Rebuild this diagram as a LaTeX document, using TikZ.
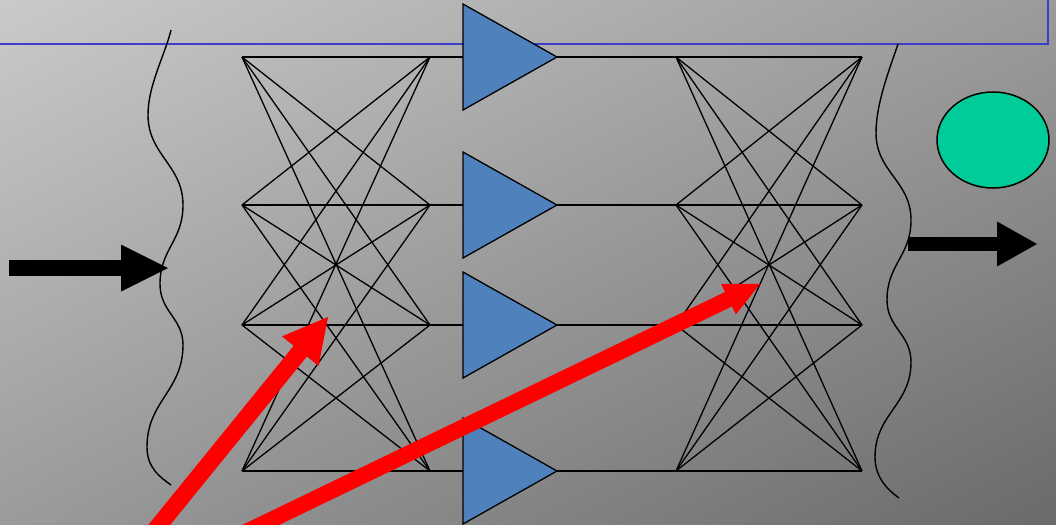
\documentclass[tikz,border=0pt]{standalone}
\usetikzlibrary{arrows.meta,shapes.geometric,shadings}
\definecolor{bglight}{RGB}{202,202,202}
\definecolor{bgmid}{RGB}{155,155,155}
\definecolor{bgdark}{RGB}{106,106,106}
\definecolor{frameblue}{RGB}{60,60,205}
\definecolor{triblue}{RGB}{79,129,189}
\definecolor{ballgreen}{RGB}{0,204,153}
\begin{document}
\begin{tikzpicture}[x=1pt,y=-1pt,
  mesh/.style={black,line width=1.3pt},
  wave/.style={black,line width=1.4pt},
  tri/.style={draw=black,fill=triblue,line width=1.3pt,line join=miter},
  frame/.style={draw=frameblue,line width=2.5pt},
  ball/.style={ellipse,draw=black,fill=ballgreen,line width=1.5pt,inner sep=0pt,minimum width=112pt,minimum height=96pt},
  blackarrow/.style={draw=black,line width=#1},
  redarrow/.style={draw=red,line width=#1}]
\useasboundingbox (0,0) rectangle (1056,524);
\clip (0,0) rectangle (1056,524);
\shade[upper left=bglight,upper right=bgmid,lower left=bgmid,lower right=bgdark] (0,0) rectangle (1056,524);
% top frame
\draw[frame] (-10,-10) rectangle (1048,44);
% named points
\foreach \i/\y in {1/57,2/205,3/325,4/471}{
  \coordinate (L\i) at (242,\y);
  \coordinate (M\i) at (430,\y);
  \coordinate (B\i) at (463,\y);
  \coordinate (A\i) at (557,\y);
  \coordinate (R\i) at (676,\y);
  \coordinate (S\i) at (862,\y);
}
% meshes
\foreach \i in {1,...,4}{
  \foreach \j in {1,...,4}{
    \draw[mesh] (L\i) -- (M\j);
    \draw[mesh] (R\i) -- (S\j);
  }
  \draw[mesh] (M\i) -- (B\i);
  \draw[mesh] (A\i) -- (R\i);
}
% triangles
\foreach \i in {1,...,4}{
  \filldraw[tri] ([yshift=53pt]B\i) -- (A\i) -- ([yshift=-53pt]B\i) -- cycle;
}
% wavy lines
\draw[wave] (171,30) .. controls (165,55) and (148,85) .. (148,115)
  .. controls (148,155) and (183,165) .. (183,205)
  .. controls (183,241) and (160,249) .. (160,284)
  .. controls (160,312) and (183,318) .. (183,345)
  .. controls (183,391) and (147,401) .. (147,447)
  .. controls (147,468) and (160,477) .. (171,485);
\draw[wave] (898,44) .. controls (890,68) and (876,103) .. (876,133)
  .. controls (876,172) and (911,181) .. (911,220)
  .. controls (911,256) and (887,264) .. (887,300)
  .. controls (887,328) and (911,334) .. (911,362)
  .. controls (911,405) and (875,414) .. (875,457)
  .. controls (875,478) and (888,490) .. (899,498);
% green ball
\node[ball] (ball) at (993,140) {};
% black arrows
\coordinate (inS) at (9,268);
\coordinate (inT) at (168,268);
\coordinate (outS) at (908,244);
\coordinate (outT) at (1037,244);
\draw[blackarrow=16pt,-{Triangle[length=47pt,width=47pt,line width=0pt]}] (inS) -- (inT);
\draw[blackarrow=14pt,-{Triangle[length=40pt,width=45pt,line width=0pt]}] (outS) -- (outT);
% red arrows
\coordinate (r1S) at (147,540);
\coordinate (r1T) at (328,317);
\coordinate (r2S) at (244,533);
\coordinate (r2T) at (760,284);
\draw[redarrow=17pt,-{Triangle[length=44pt,width=47pt,line width=0pt]}] (r1S) -- (r1T);
\draw[redarrow=16pt,-{Triangle[length=35pt,width=34pt,line width=0pt]}] (r2S) -- (r2T);
\end{tikzpicture}
\end{document}
